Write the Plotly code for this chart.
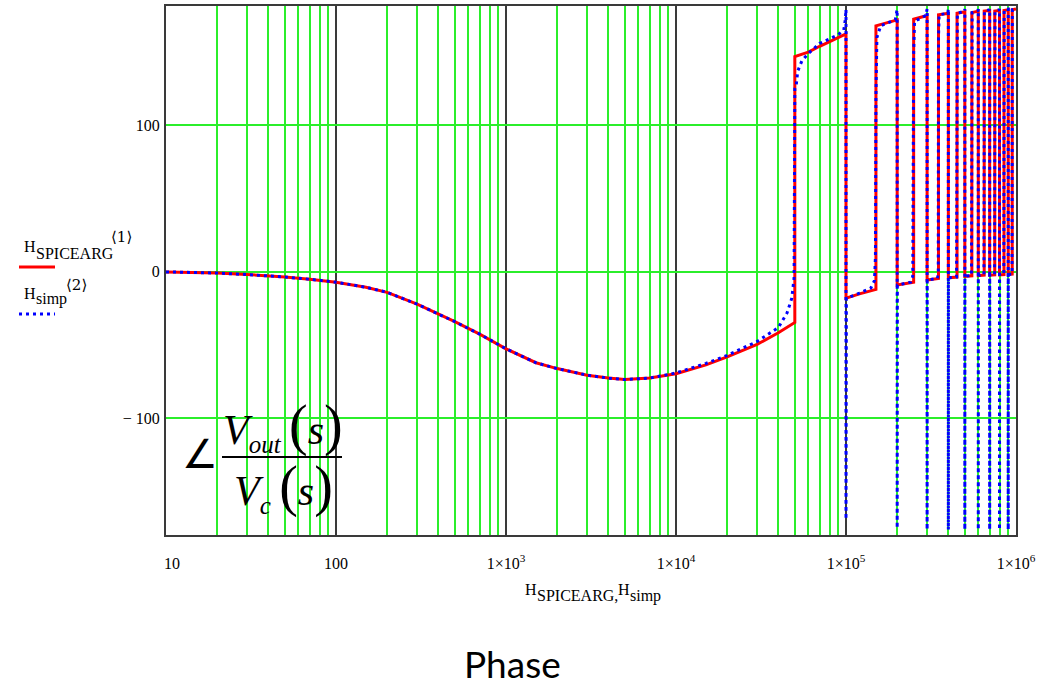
import plotly.graph_objects as go

# ---------------- data ----------------
# red solid curve: H_SPICEARG<1>  (frequency, phase in degrees)
red_f = [10, 15, 20, 30, 40, 50, 70, 100, 150, 200, 300, 500, 700, 1000, 1500, 2000,
         3000, 4000, 5000, 7000, 10000, 15000, 20000, 30000, 40000, 50000,
         50000, 60000, 70000, 80000, 90000, 100000,
         100000, 120000, 150000,
         150000, 200000,
         200000, 250000,
         250000, 300000,
         300000, 350000,
         350000, 400000,
         400000, 450000,
         450000, 500000,
         500000, 550000,
         550000, 600000,
         600000, 650000,
         650000, 700000,
         700000, 750000,
         750000, 800000,
         800000, 850000,
         850000, 900000,
         900000, 950000,
         950000, 1000000]
red_p = [0, -0.3, -0.8, -1.8, -2.6, -3.5, -5, -7, -10.5, -14, -22, -34, -42.5, -52.5, -62, -66,
         -70.5, -72.5, -73.5, -72.5, -69.5, -63.5, -58, -49.5, -41.5, -34.5,
         147, 150, 154, 157, 160, 162.5,
         -18, -15, -12,
         168, 172,
         -9, -7,
         172.5, 175,
         -5.5, -4.5,
         175.5, 176.5,
         -4, -3.5,
         176.5, 177.5,
         -3, -2.7,
         177, 178,
         -2.5, -2.2,
         178, 178.5,
         -2.2, -2,
         178, 178.5,
         -2, -1.8,
         178.5, 179,
         -1.7, -1.5,
         179, 179.5]

# blue dotted curve: H_simp<2>
blue_f = [10, 15, 20, 30, 40, 50, 70, 100, 150, 200, 300, 500, 700, 1000, 1500, 2000,
          3000, 4000, 5000, 7000, 10000, 15000, 20000, 30000, 40000, 45000, 48000, 49500,
          50000, 51000, 52000, 55000, 60000, 70000, 80000, 90000, 97000, 99000, 100000,
          100000, 100500, 120000, 140000, 147000, 149000, 150000, 152000, 160000, 195000, 199000, 200000,
          200000, 200500, 240000, 247000, 250000, 253000, 295000, 299000, 300000,
          300000, 300500, 345000, 349000, 350000, 353000, 397000, 399000, 400000,
          400000, 400500, 447000, 450000, 452000, 498000, 500000,
          500000, 500500, 547000, 550000, 552000, 598000, 600000,
          600000, 600500, 648000, 650000, 652000, 698000, 700000,
          700000, 700500, 748000, 750000, 752000, 798000, 800000,
          800000, 800500, 848000, 850000, 852000, 898000, 900000,
          900000, 900500, 948000, 950000, 952000, 998000, 1000000]
blue_p = [0, -0.3, -0.8, -1.8, -2.6, -3.5, -5, -7, -10.5, -14, -22, -34, -42.5, -52.5, -62, -66,
          -70.5, -72.5, -73.5, -72.5, -69, -62.5, -57, -47.5, -38, -28, -18, -4,
          125, 128, 137, 144, 149, 156, 159, 162, 165, 172, 179,
          -169, -18, -14.5, -11, -6, 10, 120, 160, 168, 172, 178, 179,
          -175, -9, -7, -3, 150, 171, 175, 179, 179.5,
          -176, -5.5, -4.5, -1, 160, 175.5, 176.5, 179.5, 179.5,
          -176, -4, -3.5, 165, 176.5, 178, 179.5,
          -176, -3, -2.5, 170, 177, 178.5, 179.5,
          -176, -2.5, -2, 172, 178, 179, 179.5,
          -176, -2, -1.8, 174, 178, 179, 179.5,
          -176, -1.8, -1.6, 175, 178.5, 179.5, 179.5,
          -176, -1.7, -1.5, 176, 179, 179.5, 179.5]

x_tickvals = [10, 100, 1e3, 1e4, 1e5, 1e6]
x_ticktext = ["&nbsp;&nbsp;&nbsp;10", "100", "1×10<sup>3</sup>", "1×10<sup>4</sup>",
              "1×10<sup>5</sup>", "1×10<sup>6</sup>"]
y_tickvals = [-100, 0, 100]
y_ticktext = ["− 100", "0", "100"]

# ---------------- figure ----------------
W, H = 1060, 685
L, R, T, B = 166, 1016, 6, 535   # plot area in page pixels (body margin removed below)


def px(x):
    return (x - L) / (R - L)


def py(y):
    return (B - y) / (B - T)


SERIF = "Liberation Serif, Times New Roman, serif"
GREEN = "#2bee2b"
DARK = "#3a3a3a"

fig = go.Figure()
fig.add_trace(go.Scatter(x=red_f, y=red_p, mode="lines",
                         line=dict(color="#ff0000", width=3), showlegend=False))
fig.add_trace(go.Scatter(x=blue_f, y=blue_p, mode="lines",
                         line=dict(color="#0000ff", width=3, dash="3px,4px"), showlegend=False))

minor_vals = [m * 10 ** k for k in range(1, 6) for m in range(2, 10)]

fig.update_xaxes(type="log", range=[1, 6], tickmode="array", tickvals=x_tickvals,
                 ticktext=x_ticktext, showgrid=True, gridcolor=DARK, gridwidth=1.5,
                 minor=dict(tickmode="array", tickvals=minor_vals, showgrid=True,
                            gridcolor=GREEN, gridwidth=1.5, ticks=""),
                 showline=True, mirror=True, linecolor=DARK, linewidth=2,
                 zeroline=False, ticks="", ticklabelstandoff=13,
                 tickfont=dict(family=SERIF, size=16, color="black"))
fig.update_yaxes(range=[-179.6, 181.5], tickmode="array", tickvals=y_tickvals,
                 ticktext=y_ticktext, showgrid=True, gridcolor=GREEN, gridwidth=1.5,
                 showline=True, mirror=True, linecolor=DARK, linewidth=2,
                 zeroline=False, ticks="", ticklabelstandoff=1,
                 tickfont=dict(family=SERIF, size=16, color="black"))

ann = []


def text(x, y, s, size=16, anchor="left", family=SERIF):
    ann.append(dict(x=px(x), y=py(y), xref="paper", yref="paper", xanchor=anchor,
                    yanchor="middle", text=s, showarrow=False,
                    font=dict(family=family, size=size, color="black")))


# legend-like labels on the left
text(22, 246.5, "H")
text(34, 253, "SPICEARG")
text(121, 236.5, "⟨1⟩", size=15, anchor="center", family="DejaVu Serif")
text(22, 293.5, "H")
text(34, 299, "simp")
text(76, 284.5, "⟨2⟩", size=15, anchor="center", family="DejaVu Serif")

# x axis title
text(523, 589, "H")
text(535, 595.5, "SPICEARG,")
text(616, 589, "H")
text(628, 595.5, "simp")

# formula
text(200, 454, "∠", size=40, anchor="center")
text(283, 426, "<i>V</i><sub><span style='font-size:25px'><i>out</i></span></sub>&#8201;"
               "<span style='font-size:56px'>(</span><i>s</i><span style='font-size:56px'>)</span>",
     size=42, anchor="center")
text(283, 487, "<i>V</i><sub><span style='font-size:25px'><i>c</i></span></sub>&#8201;"
               "<span style='font-size:56px'>(</span><i>s</i><span style='font-size:56px'>)</span>",
     size=42, anchor="center")

# slide caption
text(512, 663, "Phase", size=37, anchor="center", family="Lato")

shapes = [
    dict(type="line", xref="paper", yref="paper", x0=px(19), x1=px(55), y0=py(267), y1=py(267),
         line=dict(color="#ff0000", width=3)),
    dict(type="line", xref="paper", yref="paper", x0=px(19), x1=px(55), y0=py(314), y1=py(314),
         line=dict(color="#0000ff", width=3, dash="3px,4px")),
    dict(type="line", xref="paper", yref="paper", x0=px(222), x1=px(342), y0=py(457), y1=py(457),
         line=dict(color="black", width=2)),
]

fig.update_layout(width=W, height=H,
                  margin=dict(l=L, r=W - R, t=T, b=H - B, autoexpand=False),
                  paper_bgcolor="white", plot_bgcolor="white",
                  annotations=ann, shapes=shapes, showlegend=False)

fig.write_html("out.html", config={"displayModeBar": False},
               post_script="document.body.style.margin='0px';document.body.style.overflow='hidden';")
